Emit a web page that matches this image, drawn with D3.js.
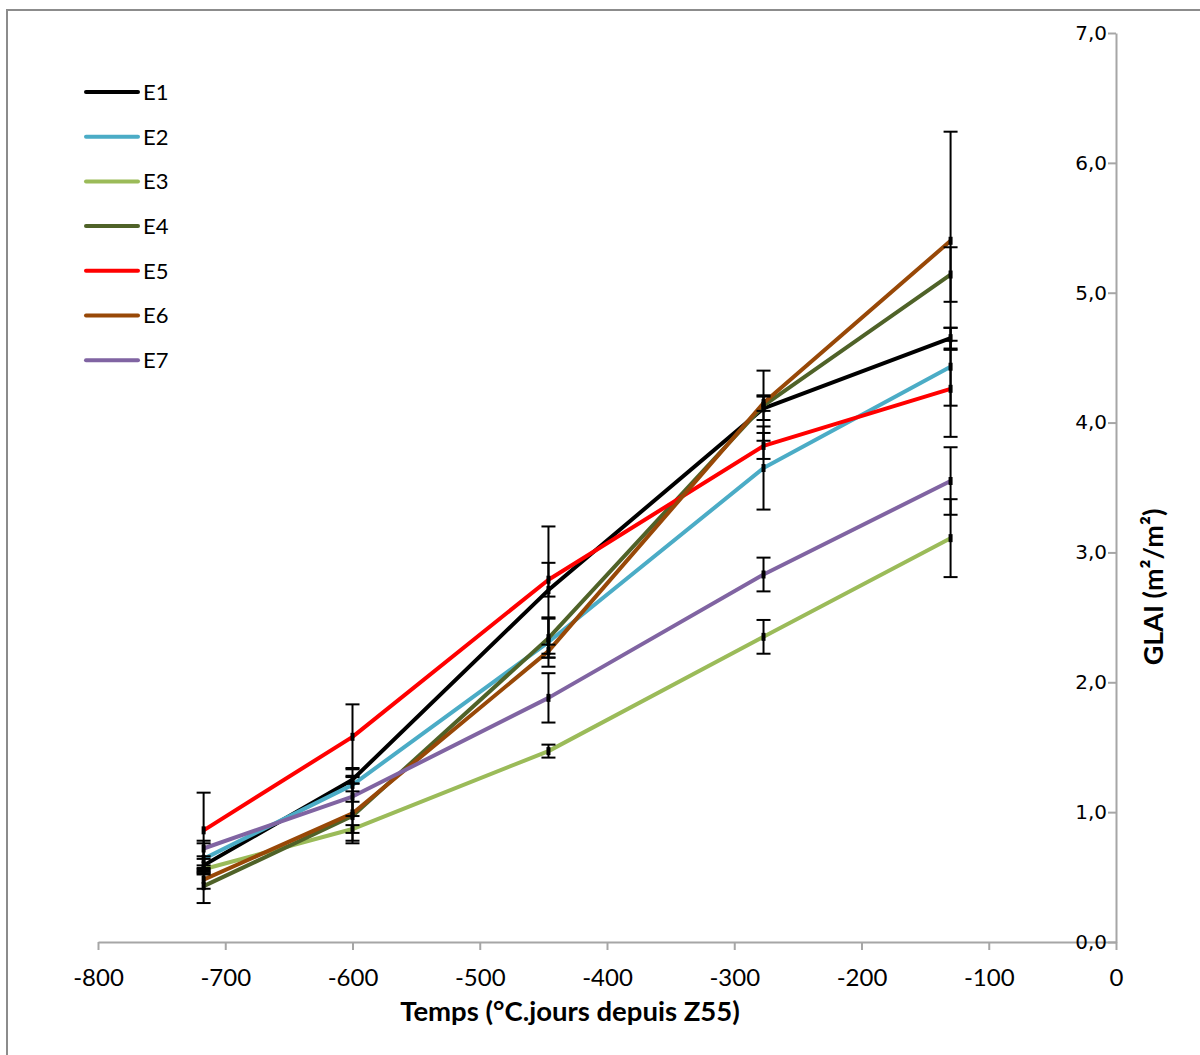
<!DOCTYPE html>
<html><head><meta charset="utf-8">
<script src="https://cdn.jsdelivr.net/npm/d3@7"></script>
<style>body{margin:0;background:#fff}svg{display:block}</style>
</head><body>
<script>
const xValues = [-717, -600, -446, -277, -130];
const seriesNames = ["E1","E2","E3","E4","E5","E6","E7"];
const seriesColors = ["#000000","#4bacc6","#9bbb59","#4f6228","#ff0000","#984807","#8064a2"];
const E1 = [0.59, 1.25, 2.71, 4.11, 4.65];
const E2 = [0.64, 1.21, 2.31, 3.65, 4.43];
const E3 = [0.56, 0.87, 1.47, 2.35, 3.11];
const E4 = [0.43, 0.97, 2.34, 4.13, 5.14];
const E5 = [0.86, 1.58, 2.79, 3.82, 4.26];
const E6 = [0.48, 0.99, 2.24, 4.15, 5.40];
const E7 = [0.72, 1.12, 1.88, 2.83, 3.55];
const E1err = [0.05, 0.03, 0.49, 0.09, 0.08];
const E2err = [0.12, 0.13, 0.19, 0.32, 0.30];
const E3err = [0.03, 0.03, 0.05, 0.13, 0.30];
const E4err = [0.13, 0.19, 0.15, 0.27, 0.21];
const E5err = [0.29, 0.25, 0.13, 0.10, 0.37];
const E6err = [0.07, 0.23, 0.05, 0.06, 0.84];
const E7err = [0.06, 0.15, 0.19, 0.13, 0.26];
const xTicks = [-800,-700,-600,-500,-400,-300,-200,-100,0];
const yTicks = [0,1,2,3,4,5,6,7];
const xTitle = "Temps (°C.jours depuis Z55)";
const yTitle = "GLAI (m²/m²)";

const values = [E1,E2,E3,E4,E5,E6,E7];
const errors = [E1err,E2err,E3err,E4err,E5err,E6err,E7err];
const series = seriesNames.map((n,i)=>({name:n,color:seriesColors[i],
  pts:xValues.map((x,j)=>({x, y:values[i][j], e:errors[i][j]}))}));

const W=1200,H=1055;
const svg=d3.select("body").append("svg").attr("width",W).attr("height",H);
// outer border
svg.append("path").attr("d","M7,1060V10H1205").attr("fill","none").attr("stroke","#8c8c8c").attr("stroke-width",2);

const x=d3.scaleLinear().domain([-800,0]).range([98,1116]);
const y=d3.scaleLinear().domain([0,7]).range([942,33]);
const axisColor="#a6a6a6";

// x axis
const gx=svg.append("g").attr("transform","translate(0,942)")
  .call(d3.axisBottom(x).tickValues(xTicks).tickSize(8).tickSizeOuter(0).tickFormat(d=>String(d).replace("−","-")));
gx.select(".domain").attr("stroke",axisColor).attr("stroke-width",2);
gx.selectAll(".tick line").attr("stroke",axisColor).attr("stroke-width",2);
gx.selectAll(".tick text").attr("font-family","Lato, 'Open Sans', sans-serif").attr("font-size",24)
  .attr("fill","#000").attr("dy","0.35em").attr("y",36);

// y axis (right side, labels to the left)
const gy=svg.append("g").attr("transform","translate(1116,0)")
  .call(d3.axisLeft(y).tickValues(yTicks).tickSize(8).tickSizeOuter(0).tickFormat(d=>d3.format(".1f")(d).replace(".",",")));
gy.select(".domain").attr("stroke",axisColor).attr("stroke-width",2);
gy.selectAll(".tick line").attr("stroke",axisColor).attr("stroke-width",2);
gy.selectAll(".tick text").attr("font-family","'DejaVu Sans', sans-serif").attr("font-size",20)
  .attr("fill","#000").attr("x",-9);

// titles
svg.append("text").attr("x",570).attr("y",1021).attr("text-anchor","middle")
  .attr("font-family","Lato, 'Open Sans', sans-serif").attr("font-weight","bold").attr("font-size",27.5)
  .text(xTitle);
svg.append("text").attr("transform","translate(1163,587) rotate(-90)").attr("text-anchor","middle")
  .attr("font-family","Lato, 'Open Sans', sans-serif").attr("font-weight","bold").attr("font-size",27)
  .text(yTitle);

// lines
const line=d3.line().x(d=>x(d.x)).y(d=>y(d.y));
const gs=svg.append("g");
series.forEach(s=>{
  gs.append("path").datum(s.pts).attr("d",line).attr("fill","none")
    .attr("stroke",s.color).attr("stroke-width",4).attr("stroke-linejoin","round");
});
// error bars
const ge=svg.append("g").attr("stroke","#000").attr("stroke-width",2);
series.forEach(s=>{
  s.pts.forEach(p=>{
    const cx=x(p.x), y0=y(p.y-p.e), y1=y(p.y+p.e);
    ge.append("line").attr("x1",cx).attr("x2",cx).attr("y1",y0).attr("y2",y1);
    ge.append("line").attr("x1",cx-7).attr("x2",cx+7).attr("y1",y0).attr("y2",y0);
    ge.append("line").attr("x1",cx-7).attr("x2",cx+7).attr("y1",y1).attr("y2",y1);
    svg.append("rect").attr("x",cx-2).attr("y",y(p.y)-4).attr("width",4).attr("height",8).attr("fill","#000");
  });
});

// legend
const lg=svg.append("g");
series.forEach((s,i)=>{
  const ly=92+i*44.7;
  lg.append("line").attr("x1",86).attr("x2",138).attr("y1",ly).attr("y2",ly)
    .attr("stroke",s.color).attr("stroke-width",4).attr("stroke-linecap","round");
  lg.append("text").attr("x",143).attr("y",ly).attr("dy","0.36em")
    .attr("font-family","Lato, 'Open Sans', sans-serif").attr("font-size",22).text(s.name);
});
</script>
</body></html>
